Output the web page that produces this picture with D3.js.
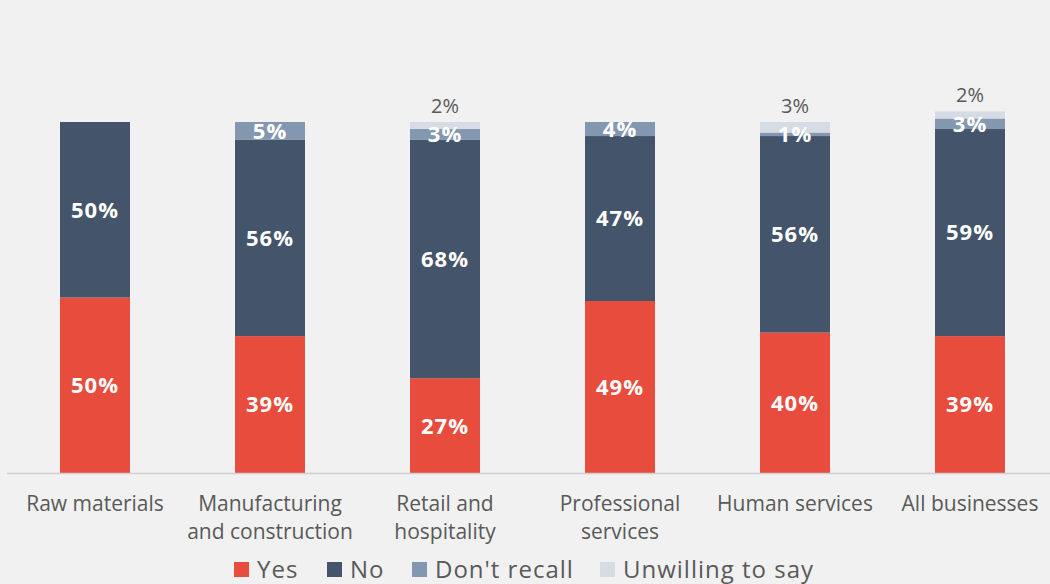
<!DOCTYPE html>
<html>
<head>
<meta charset="utf-8">
<script src="https://cdn.jsdelivr.net/npm/d3@7"></script>
<style>
  html, body { margin: 0; padding: 0; background: #f1f1f1; }
  svg { display: block; font-family: "Open Sans", "Noto Sans", sans-serif; }
</style>
</head>
<body>
<svg id="chart" width="1050" height="584"></svg>
<script>
// Survey answers by sector (percent of respondents)
const categories = [
  "Raw materials",
  "Manufacturing\nand construction",
  "Retail and\nhospitality",
  "Professional\nservices",
  "Human services",
  "All businesses"
];
const seriesNames = ["Yes", "No", "Don't recall", "Unwilling to say"];
const yes         = [50, 39, 27, 49, 40, 39];
const no          = [50, 56, 68, 47, 56, 59];
const dontRecall  = [0, 5, 3, 4, 1, 3];
const unwilling   = [0, 0, 2, 0, 3, 2];
const colors = ["#e84c3d", "#44546a", "#8497b0", "#d6dce4"];

const rows = categories.map((c, i) => ({
  category: c,
  "Yes": yes[i],
  "No": no[i],
  "Don't recall": dontRecall[i],
  "Unwilling to say": unwilling[i]
}));

const svg = d3.select("#chart");
const width = 1050;
const baseY = 473;

const x = d3.scaleBand()
  .domain(categories)
  .range([7.5, 1057.5])
  .paddingInner(0.6)
  .paddingOuter(0.3);

const y = d3.scaleLinear()
  .domain([0, 100])
  .range([baseY, 122]);

const color = d3.scaleOrdinal().domain(seriesNames).range(colors);

const stacked = d3.stack().keys(seriesNames)(rows);

const layers = svg.append("g")
  .selectAll("g")
  .data(stacked)
  .join("g")
  .attr("fill", d => color(d.key));

layers.selectAll("rect")
  .data(d => d.map(p => ({ p, key: d.key })))
  .join("rect")
  .attr("x", d => x(d.p.data.category))
  .attr("width", x.bandwidth())
  .attr("y", d => y(d.p[1]))
  .attr("height", d => y(d.p[0]) - y(d.p[1]));

// value labels: white inside the segment, grey above the bar for the last series
const labels = [];
stacked.forEach(layer => {
  layer.forEach(p => {
    const v = p[1] - p[0];
    if (v <= 0) return;
    labels.push({ key: layer.key, v, p });
  });
});

svg.append("g")
  .selectAll("text")
  .data(labels)
  .join("text")
  .attr("x", d => x(d.p.data.category) + x.bandwidth() / 2)
  .attr("y", d => d.key === "Unwilling to say"
    ? y(d.p[1]) - 9
    : (y(d.p[0]) + y(d.p[1])) / 2)
  .attr("dy", d => d.key === "Unwilling to say" ? 0 : "0.36em")
  .attr("text-anchor", "middle")
  .attr("fill", d => d.key === "Unwilling to say" ? "#595959" : "#ffffff")
  .attr("font-weight", d => d.key === "Unwilling to say" ? 400 : 700)
  .attr("font-size", d => d.key === "Unwilling to say" ? 20 : 22)
  .attr("letter-spacing", d => d.key === "Unwilling to say" ? 0 : 1)
  .text(d => d.v + "%");

// baseline
const xAxis = svg.append("g")
  .attr("transform", `translate(0,${baseY})`)
  .call(d3.axisBottom(x).tickSize(0).tickFormat(""));
xAxis.select(".domain")
  .attr("d", `M7,0.5H${width}`)
  .attr("stroke", "#d0d0d0")
  .attr("stroke-width", 1.5);

// category labels, one tspan per line
const cat = svg.append("g")
  .selectAll("text")
  .data(categories)
  .join("text")
  .attr("x", d => x(d) + x.bandwidth() / 2)
  .attr("y", 511)
  .attr("text-anchor", "middle")
  .attr("fill", "#595959")
  .attr("font-size", 21);
cat.selectAll("tspan")
  .data(d => d.split("\n").map(line => ({ line, x: x(d) + x.bandwidth() / 2 })))
  .join("tspan")
  .attr("x", d => d.x)
  .attr("dy", (d, i) => i === 0 ? 0 : 28)
  .text(d => d.line);

// legend
const legendX = [234, 327, 412, 600];
const legend = svg.append("g")
  .selectAll("g")
  .data(seriesNames)
  .join("g")
  .attr("transform", (d, i) => `translate(${legendX[i]},562)`);
legend.append("rect")
  .attr("width", 15)
  .attr("height", 15)
  .attr("fill", d => color(d));
legend.append("text")
  .attr("x", 23)
  .attr("y", 15.5)
  .attr("fill", "#595959")
  .attr("font-size", 24)
  .attr("letter-spacing", 1)
  .text(d => d);
</script>
</body>
</html>
